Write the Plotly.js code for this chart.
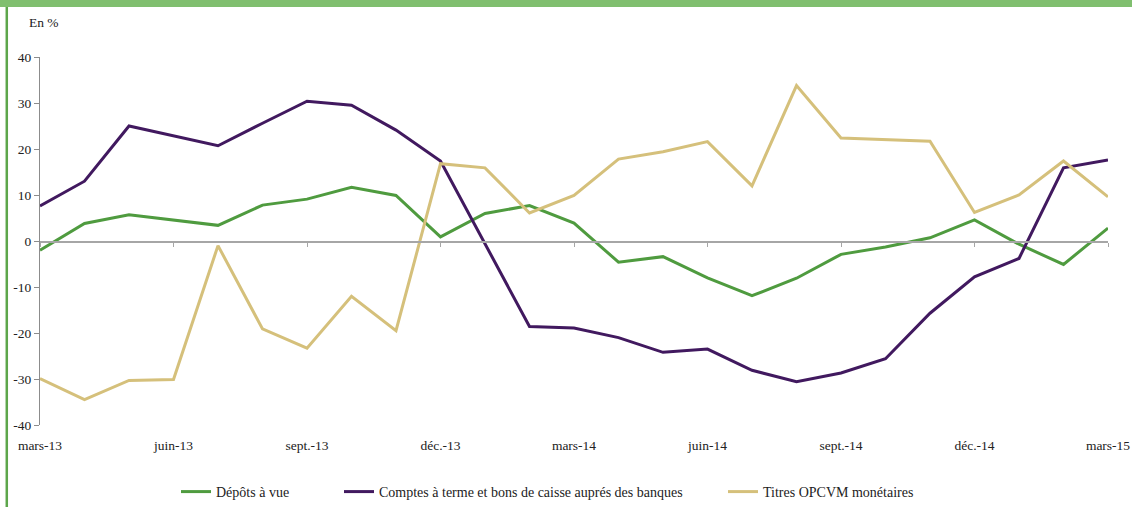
<!DOCTYPE html>
<html>
<head>
<meta charset="utf-8">
<script src="https://cdn.plot.ly/plotly-3.0.1.min.js"></script>
<style>html,body{margin:0;padding:0;background:#fff;}#chart{width:1132px;height:507px;}</style>
</head>
<body>
<div id="chart"></div>
<script>
// Months from mars-13 to mars-15 (index 0..24)
const monthIndex = [0,1,2,3,4,5,6,7,8,9,10,11,12,13,14,15,16,17,18,19,20,21,22,23,24];
const tickPositions = [0,3,6,9,12,15,18,21,24];
const tickLabels = ["mars-13","juin-13","sept.-13","déc.-13","mars-14","juin-14","sept.-14","déc.-14","mars-15"];
const yTickValues = [-40,-30,-20,-10,0,10,20,30,40];
const yTickLabels = ["-40","-30","-20","-10","0","10","20","30","40"];

const seriesNames = ["Dépôts à vue","Comptes à terme et bons de caisse auprés des banques","Titres OPCVM monétaires"];

const depotsAVue = [-2.0,3.8,5.7,4.5,3.4,7.8,9.1,11.7,9.9,0.9,6.0,7.7,3.9,-4.6,-3.4,-8.0,-11.9,-8.1,-2.9,-1.3,0.7,4.6,-0.7,-5.1,2.8];
const comptesATerme = [7.6,13.0,25.0,22.9,20.7,25.6,30.4,29.5,24.1,17.4,-0.6,-18.6,-18.9,-21.0,-24.2,-23.5,-28.1,-30.6,-28.7,-25.6,-15.7,-7.8,-3.8,15.9,17.6];
const titresOPCVM = [-29.9,-34.5,-30.3,-30.1,-1.0,-19.1,-23.3,-12.0,-19.5,16.8,15.9,6.1,9.9,17.8,19.4,21.6,12.0,33.8,22.4,22.0,21.7,6.2,10.0,17.4,9.6];

const colors = ["#4f9b3f","#41195f","#d5c07b"];
const legendIds = ["legend","legend2","legend3"];
const serif = "Liberation Serif";

const traces = [depotsAVue, comptesATerme, titresOPCVM].map((vals, i) => ({
  x: monthIndex, y: vals, name: seriesNames[i], type: "scatter", mode: "lines",
  line: {color: colors[i], width: 3}, hoverinfo: "skip", legend: legendIds[i]
}));
// invisible helper trace for the zero-line axis with ticks
traces.push({x: [0,24], y: [0,0], xaxis: "x2", mode: "lines", line: {width: 0, color: "rgba(0,0,0,0)"}, showlegend: false, hoverinfo: "skip"});

function legendAt(px) {
  return {orientation: "h", xref: "container", yref: "container", x: px / 1132, xanchor: "left",
          y: 0.0296, yanchor: "middle", bgcolor: "rgba(0,0,0,0)",
          font: {family: serif, size: 14, color: "#222"}};
}

const layout = {
  width: 1132, height: 507,
  margin: {l: 40, r: 24, t: 57, b: 82},
  paper_bgcolor: "#fff", plot_bgcolor: "#fff",
  font: {family: serif, size: 13.5, color: "#222"},
  showlegend: true,
  legend: legendAt(176),
  legend2: legendAt(339),
  legend3: legendAt(723),
  xaxis: {range: [0, 24], tickmode: "array", tickvals: tickPositions, ticktext: tickLabels,
          showline: false, showgrid: false, zeroline: false,
          ticks: "outside", ticklen: 8, tickcolor: "rgba(0,0,0,0)",
          tickfont: {family: serif, size: 13.5, color: "#222"}},
  xaxis2: {range: [0, 24], overlaying: "x", anchor: "free", position: 0.5,
           tickmode: "array", tickvals: tickPositions, showticklabels: false,
           showline: true, linecolor: "#a6a6a6", linewidth: 1.5,
           ticks: "outside", ticklen: 4, tickcolor: "#a6a6a6", tickwidth: 1,
           showgrid: false, zeroline: false},
  yaxis: {range: [-40, 40], tickmode: "array", tickvals: yTickValues, ticktext: yTickLabels,
          showgrid: false, zeroline: false,
          showline: true, linecolor: "#8c8c8c", linewidth: 1,
          ticks: "outside", ticklen: 5, tickcolor: "#8c8c8c",
          tickfont: {family: serif, size: 13.5, color: "#222"}},
  annotations: [{text: "En %", xref: "paper", yref: "paper", x: -0.012, y: 1.094,
                 xanchor: "left", yanchor: "middle", showarrow: false,
                 font: {family: serif, size: 13.5, color: "#222"}}],
  shapes: [
    {type: "rect", xref: "paper", yref: "paper", x0: -0.0375, x1: 1.0225, y0: 1.1359, y1: 1.1549,
     fillcolor: "#80bf6f", line: {width: 0}, layer: "above"},
    {type: "line", xref: "paper", yref: "paper", x0: -0.0311, x1: -0.0311, y0: -0.2228, y1: 1.1359,
     line: {color: "#5da64b", width: 2.5}}
  ]
};

Plotly.newPlot("chart", traces, layout, {displayModeBar: false, staticPlot: true});
</script>
</body>
</html>
